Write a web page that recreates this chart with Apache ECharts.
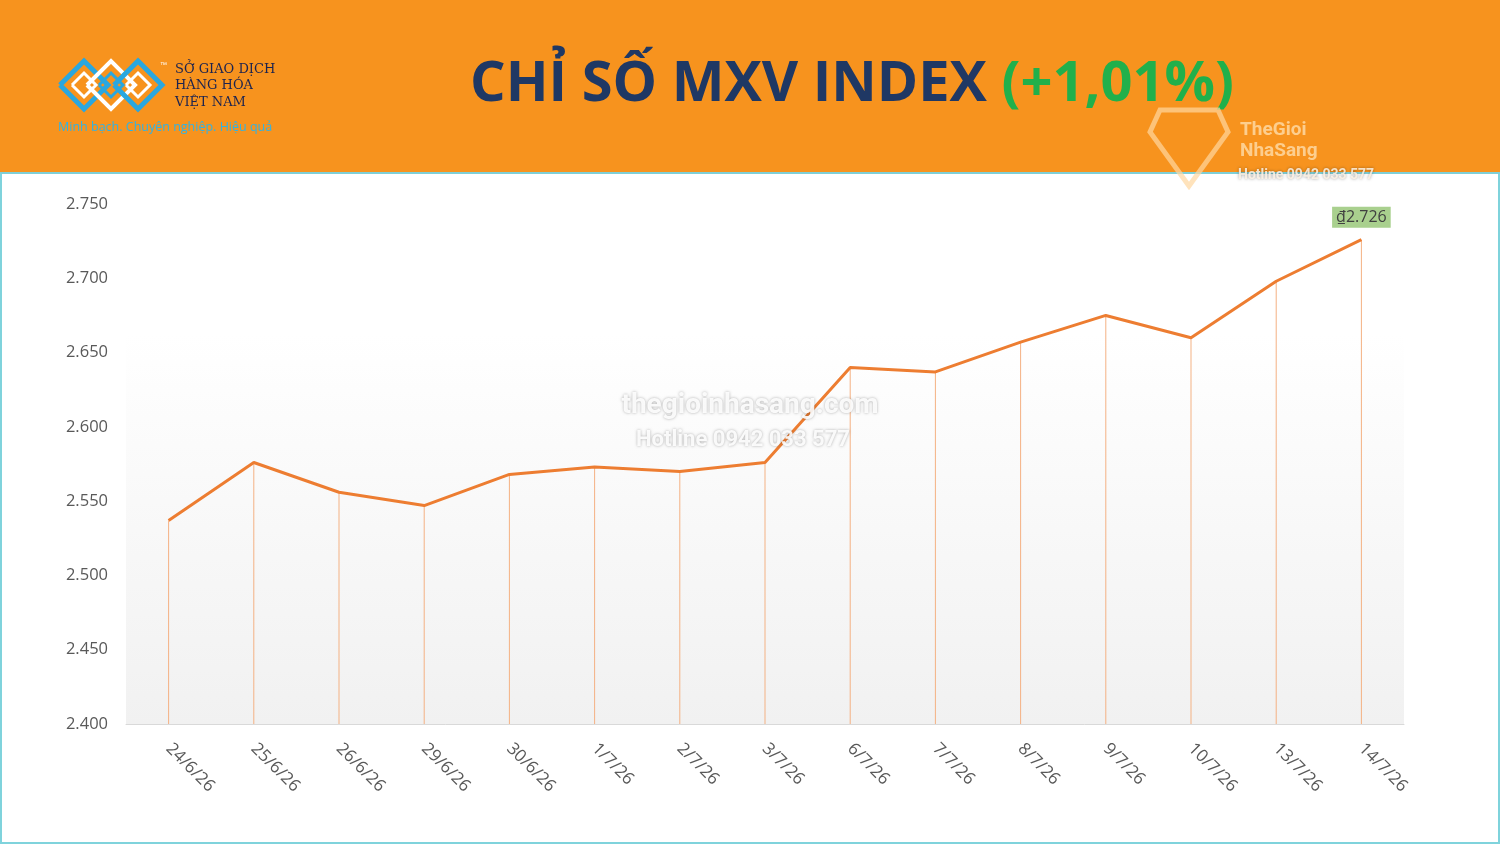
<!DOCTYPE html>
<html>
<head>
<meta charset="utf-8">
<script src="https://cdn.jsdelivr.net/npm/echarts@6/dist/echarts.min.js"></script>
<style>
  html, body { margin: 0; padding: 0; background: #fff; }
  #chart { width: 1500px; height: 844px; }
</style>
</head>
<body>
<div id="chart"></div>
<script>
// ngày giao dịch
var days = ['24/6/26', '25/6/26', '26/6/26', '29/6/26', '30/6/26', '1/7/26', '2/7/26', '3/7/26',
  '6/7/26', '7/7/26', '8/7/26', '9/7/26', '10/7/26', '13/7/26', '14/7/26'];
// chỉ số MXV-Index
var mxv = [2537, 2576, 2556, 2547, 2568, 2573, 2570, 2576, 2640, 2637, 2657, 2675, 2660, 2698, 2726];
var yMin = 2400, yMax = 2750, yStep = 50;

function fmtVN(v) {
  // 2750 -> 2.750
  var s = String(Math.round(v));
  return s.replace(/\B(?=(\d{3})+(?!\d))/g, '.');
}

// logo MXV: các hình thoi lồng nhau (phác thảo)
function diamond(cx, r, color, w) {
  return {
    type: 'polyline', z: 12,
    shape: { points: [[cx - r, 85], [cx, 85 - r], [cx + r, 85], [cx, 85 + r], [cx - r, 85]] },
    style: { stroke: color, lineWidth: w, fill: null }
  };
}

var chart = echarts.init(document.getElementById('chart'));

var option = {
  backgroundColor: '#ffffff',
  animation: false,
  grid: {
    left: 126, right: 96, top: 204, bottom: 120,
    show: true,
    borderWidth: 0,
    backgroundColor: new echarts.graphic.LinearGradient(0, 0, 0, 1, [
      { offset: 0, color: '#ffffff' },
      { offset: 0.25, color: '#ffffff' },
      { offset: 1, color: '#f1f1f1' }
    ])
  },
  xAxis: {
    type: 'category',
    data: days,
    boundaryGap: true,
    axisLine: { lineStyle: { color: '#d9d9d9', width: 1 } },
    axisTick: { show: false },
    axisLabel: {
      rotate: -45,
      color: '#595959',
      fontSize: 17,
      fontFamily: 'Open Sans',
      margin: 22,
      interval: 0
    }
  },
  yAxis: {
    type: 'value',
    min: yMin, max: yMax, interval: yStep,
    axisLine: { show: false },
    axisTick: { show: false },
    splitLine: { show: false },
    axisLabel: {
      color: '#595959',
      fontSize: 16.5,
      fontFamily: 'Open Sans',
      margin: 18,
      formatter: function (v) { return fmtVN(v); }
    }
  },
  series: [
    {
      // đường gióng xuống trục
      type: 'bar',
      data: mxv,
      barWidth: 1,
      itemStyle: { color: '#f4b183' },
      silent: true,
      z: 1
    },
    {
      type: 'line',
      data: mxv,
      symbol: 'none',
      lineStyle: { color: '#ed7d31', width: 3 },
      z: 3,
      markPoint: {
        symbol: 'circle',
        symbolSize: 0,
        data: [{ coord: [days.length - 1, mxv[mxv.length - 1]], value: mxv[mxv.length - 1] }],
        label: {
          show: true,
          position: 'top',
          distance: 12,
          formatter: function (p) { return '₫' + fmtVN(p.value); },
          color: '#404040',
          fontSize: 16,
          fontFamily: 'Open Sans',
          backgroundColor: '#a9d08e',
          padding: [3, 4, 2, 4]
        }
      }
    }
  ],
  graphic: [
    // dải tiêu đề màu cam
    { type: 'rect', left: 0, top: 0, shape: { width: 1500, height: 172 }, style: { fill: '#f7931e' }, z: 10 },
    { type: 'rect', left: 0, top: 172, shape: { width: 1500, height: 2 }, style: { fill: '#7fcfd6' }, z: 10 },
    // khung viền
    { type: 'rect', left: 0, top: 174, shape: { width: 2, height: 670 }, style: { fill: '#7fd3dc' }, z: 10 },
    { type: 'rect', left: 1498, top: 174, shape: { width: 2, height: 670 }, style: { fill: '#7fd3dc' }, z: 10 },
    { type: 'rect', left: 0, top: 842, shape: { width: 1500, height: 2 }, style: { fill: '#7fd3dc' }, z: 10 },
    // tiêu đề
    {
      type: 'text', x: 852, y: 85, z: 11,
      style: {
        text: '{a|CHỈ SỐ MXV INDEX }{b|(+1,01%)}',
        align: 'center', verticalAlign: 'middle',
        rich: {
          a: { fontFamily: 'Open Sans', fontWeight: 'bold', fontSize: 56, fill: '#1f3864' },
          b: { fontFamily: 'Open Sans', fontWeight: 'bold', fontSize: 56, fill: '#21b04b' }
        }
      }
    },
    diamond(84, 24, '#2aa7df', 5),
    diamond(84, 12, '#ffffff', 3),
    diamond(111, 24, '#ffffff', 4),
    diamond(111, 12, '#2aa7df', 3),
    diamond(138, 24, '#2aa7df', 5),
    diamond(138, 12, '#ffffff', 3),
    {
      type: 'text', x: 160, y: 62, z: 12,
      style: { text: '™', fontSize: 7, fill: '#ffffff' }
    },
    {
      type: 'text', x: 175, y: 61, z: 11,
      style: {
        text: 'SỞ GIAO DỊCH\nHÀNG HÓA\nVIỆT NAM',
        fontFamily: 'DejaVu Serif', fontSize: 13, lineHeight: 16.5, fill: '#1b2350'
      }
    },
    {
      type: 'text', x: 58, y: 121, z: 11,
      style: { text: 'Minh bạch. Chuyên nghiệp. Hiệu quả', fontFamily: 'Open Sans', fontSize: 12.5, fill: '#2fb3e6' }
    },
    // watermark góc phải
    {
      type: 'polygon', x: 1150, y: 110, z: 11,
      shape: { points: [[10, 0], [68, 0], [78, 22], [39, 76], [0, 22]] },
      style: { fill: null, stroke: 'rgba(255,215,160,0.7)', lineWidth: 5 }
    },
    {
      type: 'text', x: 1240, y: 120, z: 11,
      style: { text: 'TheGioi\nNhaSang', fontFamily: 'Roboto', fontWeight: 'bold', fontSize: 19, lineHeight: 21, fill: 'rgba(255,225,180,0.75)' }
    },
    {
      type: 'text', x: 1238, y: 168, z: 11,
      style: {
        text: 'Hotline 0942 033 577', fontFamily: 'Roboto', fontWeight: 'bold', fontSize: 14,
        fill: 'rgba(255,245,230,0.85)', textShadowColor: 'rgba(0,0,0,0.45)', textShadowBlur: 3
      }
    },
    // watermark giữa
    {
      type: 'text', x: 750, y: 406, z: 5,
      style: {
        text: 'thegioinhasang.com', align: 'center', verticalAlign: 'middle',
        fontFamily: 'Roboto', fontWeight: 'bold', fontSize: 28, fill: 'rgba(255,255,255,0.9)',
        textShadowColor: 'rgba(0,0,0,0.35)', textShadowBlur: 3
      }
    },
    {
      type: 'text', x: 743, y: 440, z: 5,
      style: {
        text: 'Hotline 0942 033 577', align: 'center', verticalAlign: 'middle',
        fontFamily: 'Roboto', fontWeight: 'bold', fontSize: 22, fill: 'rgba(255,255,255,0.9)',
        textShadowColor: 'rgba(0,0,0,0.35)', textShadowBlur: 3
      }
    }
  ]
};

chart.setOption(option);
</script>
</body>
</html>
